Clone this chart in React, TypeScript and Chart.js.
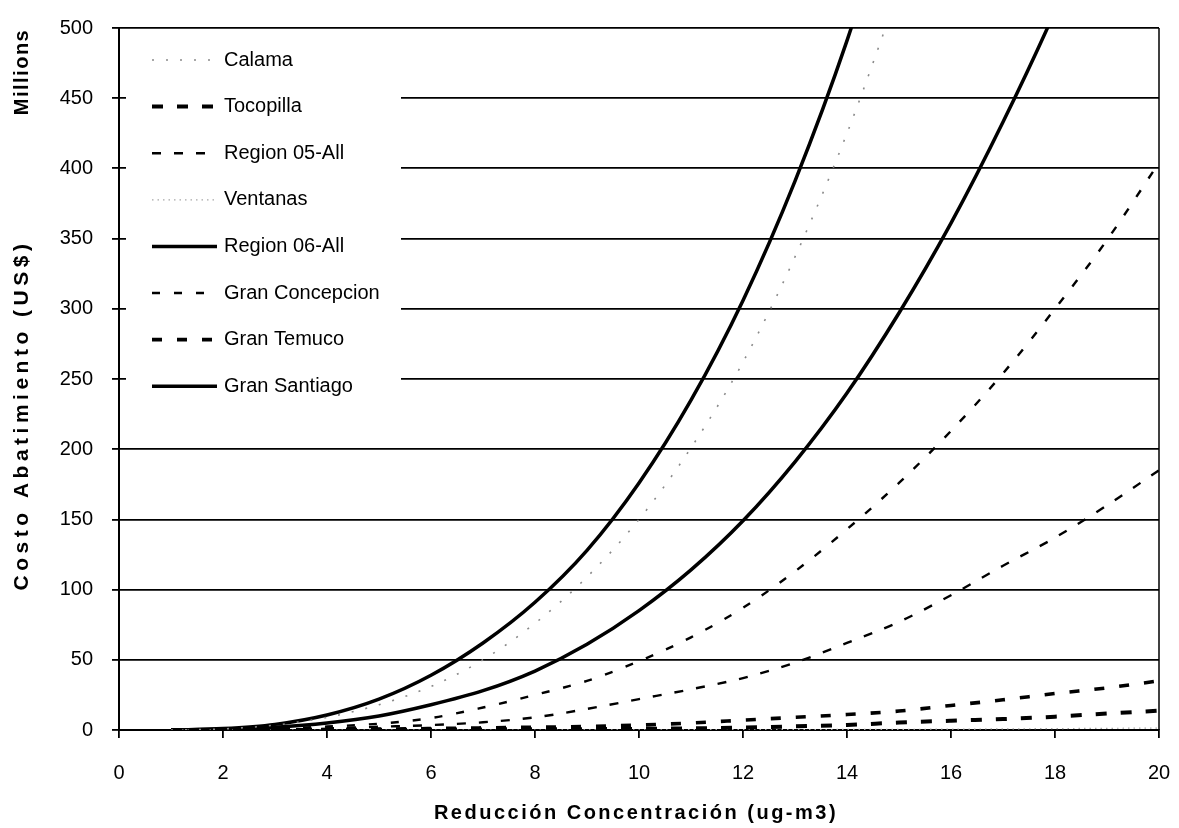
import React, { useEffect, useRef } from 'react';
import { Chart, registerables } from 'chart.js';

Chart.register(...registerables);

// ---- data ----
const X_VALUES = [1, 2, 3, 4, 5, 6, 7, 8, 9, 10, 11, 12, 13, 14, 15, 16, 17, 18, 19, 20];
const X_TICKS = [0, 2, 4, 6, 8, 10, 12, 14, 16, 18, 20];
const Y_TICKS = [0, 50, 100, 150, 200, 250, 300, 350, 400, 450, 500];

const SERIES_NAMES = [
  'Calama',
  'Tocopilla',
  'Region 05-All',
  'Ventanas',
  'Region 06-All',
  'Gran Concepcion',
  'Gran Temuco',
  'Gran Santiago',
];

const CALAMA = [0, 0.8, 3.5, 9, 18, 31, 50, 76, 109, 150, 201, 262, 337, 425, 527];
const TOCOPILLA = [0, 0, 0, 0.1, 0.2, 0.3, 0.4, 0.5, 0.6, 0.8, 1.2, 1.7, 2.6, 3.6, 5.3, 6.6, 7.8, 9.5, 11.7, 13.8];
const REGION_05 = [0, 0.2, 0.5, 1.2, 2.3, 3.5, 5.5, 9, 15, 22, 29, 37, 48, 62, 77, 96, 117, 137, 160, 185];
const VENTANAS = [0, 0, 0, 0, 0, 0, 0, 0, 0.1, 0.1, 0.2, 0.2, 0.3, 0.4, 0.5, 0.6, 0.8, 1, 1.2, 1.4];
const REGION_06 = [0, 0.5, 2, 5, 10, 18, 28, 42, 61, 85, 114, 149, 191, 240, 297, 361, 433, 512, 600];
const GRAN_CONCEPCION = [0, 0.3, 1, 2.5, 4.5, 8.5, 16, 25, 35, 49, 66, 87, 113, 143, 176, 213, 254, 300, 349, 404];
const GRAN_TEMUCO = [0, 0, 0.1, 0.3, 0.6, 1, 1.5, 2, 2.5, 3.5, 5, 7, 9, 11, 13.5, 17.5, 21.5, 26, 30, 35];
const GRAN_SANTIAGO = [0, 1, 4, 10.7, 22, 39, 62, 91, 128, 176, 235, 306, 391, 491, 610];

const SERIES_VALUES = [CALAMA, TOCOPILLA, REGION_05, VENTANAS, REGION_06, GRAN_CONCEPCION, GRAN_TEMUCO, GRAN_SANTIAGO];

// styles per series (same order)
const STYLES = [
  { color: '#8a8a8a', width: 1.6, dash: [2, 12] },
  { color: '#000000', width: 4, dash: [11, 14] },
  { color: '#000000', width: 2.4, dash: [9, 13] },
  { color: '#a8a8a8', width: 1.2, dash: [1.5, 4] },
  { color: '#000000', width: 3.5, dash: [] },
  { color: '#000000', width: 2.4, dash: [8, 14] },
  { color: '#000000', width: 3.6, dash: [10, 15] },
  { color: '#000000', width: 3.5, dash: [] },
];

const X_TITLE = 'Reducción Concentración (ug-m3)';
const Y_TITLE = 'Costo Abatimiento (US$)';
const Y_UNIT = 'Millions';

const FONT = '"Liberation Sans", Arial, sans-serif';

const decorPlugin = {
  id: 'decor',
  afterDraw(chart: any) {
    const { ctx, chartArea } = chart;
    ctx.save();
    // right border
    ctx.strokeStyle = '#000';
    ctx.lineWidth = 1.5;
    ctx.beginPath();
    ctx.moveTo(chartArea.right, chartArea.top);
    ctx.lineTo(chartArea.right, chartArea.bottom);
    ctx.stroke();

    // legend box inside plot
    ctx.fillStyle = '#ffffff';
    ctx.fillRect(chartArea.left + 7, chartArea.top + 2, 275, 380);
    chart.data.datasets.forEach((ds: any, i: number) => {
      const y = chartArea.top + 32 + i * 46.6;
      ctx.save();
      ctx.strokeStyle = ds.borderColor;
      ctx.lineWidth = ds.borderWidth;
      ctx.setLineDash(ds.borderDash || []);
      ctx.beginPath();
      ctx.moveTo(chartArea.left + 33, y);
      ctx.lineTo(chartArea.left + 98, y);
      ctx.stroke();
      ctx.restore();
      ctx.fillStyle = '#000';
      ctx.font = '20px ' + FONT;
      ctx.textBaseline = 'middle';
      ctx.textAlign = 'left';
      ctx.fillText(ds.label, chartArea.left + 105, y);
    });

    // axis titles
    ctx.fillStyle = '#000';
    ctx.font = 'bold 20px ' + FONT;
    ctx.textAlign = 'center';
    ctx.textBaseline = 'middle';
    try { (ctx as any).letterSpacing = '2.5px'; } catch (e) {}
    ctx.fillText(X_TITLE, 636, 813);

    ctx.save();
    ctx.translate(22, 415);
    ctx.rotate(-Math.PI / 2);
    ctx.font = 'bold 21px ' + FONT;
    try { (ctx as any).letterSpacing = '4.5px'; } catch (e) {}
    ctx.fillText(Y_TITLE, 0, 0);
    ctx.restore();

    ctx.save();
    ctx.translate(22, 72);
    ctx.rotate(-Math.PI / 2);
    try { (ctx as any).letterSpacing = '1.5px'; } catch (e) {}
    ctx.fillText(Y_UNIT, 0, 0);
    ctx.restore();

    ctx.restore();
  },
};

export default function App() {
  const canvasRef = useRef<HTMLCanvasElement | null>(null);

  useEffect(() => {
    if (!canvasRef.current) return;
    const datasets = SERIES_NAMES.map((name, i) => ({
      label: name,
      data: SERIES_VALUES[i].map((y, j) => ({ x: X_VALUES[j], y })),
      borderColor: STYLES[i].color,
      borderWidth: STYLES[i].width,
      borderDash: STYLES[i].dash,
      pointRadius: 0,
      fill: false,
      cubicInterpolationMode: 'monotone' as const,
    }));

    const chart = new Chart(canvasRef.current, {
      type: 'line',
      data: { datasets },
      options: {
        responsive: false,
        animation: false,
        layout: { padding: { top: 28, right: 20, left: 0, bottom: 0 } },
        plugins: {
          legend: { display: false },
          tooltip: { enabled: false },
        },
        scales: {
          x: {
            type: 'linear',
            min: 0,
            max: 20,
            afterBuildTicks: (scale: any) => {
              scale.ticks = X_TICKS.map((v) => ({ value: v }));
            },
            afterFit: (scale: any) => {
              scale.height = 98;
              scale.paddingLeft = 0;
              scale.paddingRight = 0;
            },
            grid: {
              drawOnChartArea: false,
              drawTicks: true,
              tickLength: 8,
              color: '#000',
              lineWidth: 1.8,
            },
            border: { display: true, color: '#000', width: 2 },
            ticks: {
              color: '#000',
              font: { family: FONT, size: 20 },
              padding: 23,
              maxRotation: 0,
            },
          },
          y: {
            type: 'linear',
            min: 0,
            max: 500,
            afterBuildTicks: (scale: any) => {
              scale.ticks = Y_TICKS.map((v) => ({ value: v }));
            },
            afterFit: (scale: any) => {
              scale.width = 119;
              scale.paddingTop = 0;
              scale.paddingBottom = 0;
            },
            grid: {
              drawOnChartArea: true,
              drawTicks: true,
              tickLength: 7,
              color: '#000',
              lineWidth: 1.8,
            },
            border: { display: true, color: '#000', width: 2 },
            ticks: {
              color: '#000',
              font: { family: FONT, size: 20 },
              padding: 19,
            },
          },
        },
      },
      plugins: [decorPlugin],
    });
    return () => chart.destroy();
  }, []);

  return (
    <div style={{ position: 'fixed', left: 0, top: 0, width: 1179, height: 828, background: '#fff' }}>
      <canvas ref={canvasRef} width={1179} height={828} />
    </div>
  );
}
